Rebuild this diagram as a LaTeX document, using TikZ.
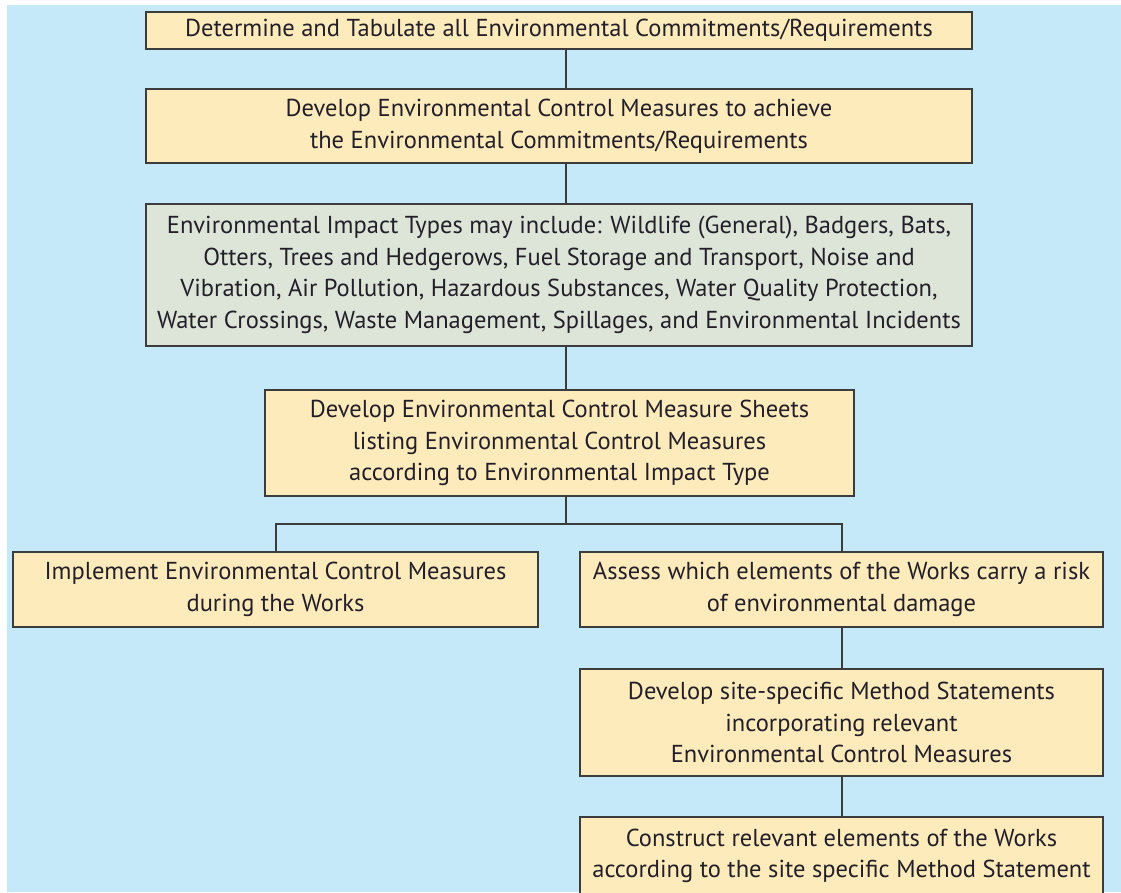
\documentclass[tikz,border=0pt]{standalone}
\usepackage{fontspec}
\setmainfont{PT Sans}
\usepackage{tikz}
\definecolor{skyback}{HTML}{C5E9F9}
\definecolor{peach}{HTML}{FEEBBC}
\definecolor{sage}{HTML}{DDE5D9}
\definecolor{edge}{HTML}{3C3C3C}
\definecolor{ink}{HTML}{231F29}
\tikzset{
  stepbox/.style={draw=edge, line width=2pt, fill=peach, align=center, inner sep=0pt, text=ink, font=\fontsize{24.5}{31.5}\selectfont},
  impactbox/.style={stepbox, fill=sage},
  link/.style={draw=edge, line width=2pt}
}

\begin{document}
\begin{tikzpicture}[x=1pt,y=-1pt]
\useasboundingbox (0,0) rectangle (1121,892);
\fill[skyback] (7,5) rectangle (1121,892);
\clip (0,0) rectangle (1121,892);
\coordinate (spine) at (566,0);
\node[stepbox, minimum width=826, minimum height=37] (tabulate) at (559,30.5) {Determine and Tabulate all Environmental Commitments/Requirements};
\node[stepbox, minimum width=826, minimum height=74] (develop) at (559,126) {Develop Environmental Control Measures to achieve\\the Environmental Commitments/Requirements};
\node[impactbox, minimum width=826, minimum height=142] (impact) at (559,275) {Environmental Impact Types may include: Wildlife (General), Badgers, Bats,\\Otters, Trees and Hedgerows, Fuel Storage and Transport, Noise and\\Vibration, Air Pollution, Hazardous Substances, Water Quality Protection,\\Water Crossings, Waste Management, Spillages, and Environmental Incidents};
\node[stepbox, minimum width=589, minimum height=106] (sheets) at (559.5,443) {Develop Environmental Control Measure Sheets\\listing Environmental Control Measures\\according to Environmental Impact Type};
\node[stepbox, minimum width=525, minimum height=75] (implement) at (275.5,589.5) {Implement Environmental Control Measures\\during the Works};
\node[stepbox, minimum width=523, minimum height=75] (assess) at (841.5,589.5) {Assess which elements of the Works carry a risk\\of environmental damage};
\node[stepbox, minimum width=523, minimum height=107] (method) at (841.5,722.5) {Develop site-specific Method Statements\\incorporating relevant\\Environmental Control Measures};
\node[stepbox, minimum width=523, minimum height=78] (construct) at (841.5,856) {Construct relevant elements of the Works\\according to the site specific Method Statement};
\coordinate (fork) at (566,524);
\draw[link] (tabulate.south -| spine) -- (develop.north -| spine);
\draw[link] (develop.south -| spine) -- (impact.north -| spine);
\draw[link] (impact.south -| spine) -- (sheets.north -| spine);
\draw[link] (sheets.south -| spine) -- (fork);
\draw[link] (implement.north) |- (fork) -| (assess.north);
\draw[link] (assess) -- (method);
\draw[link] (method) -- (construct);
\end{tikzpicture}
\end{document}
